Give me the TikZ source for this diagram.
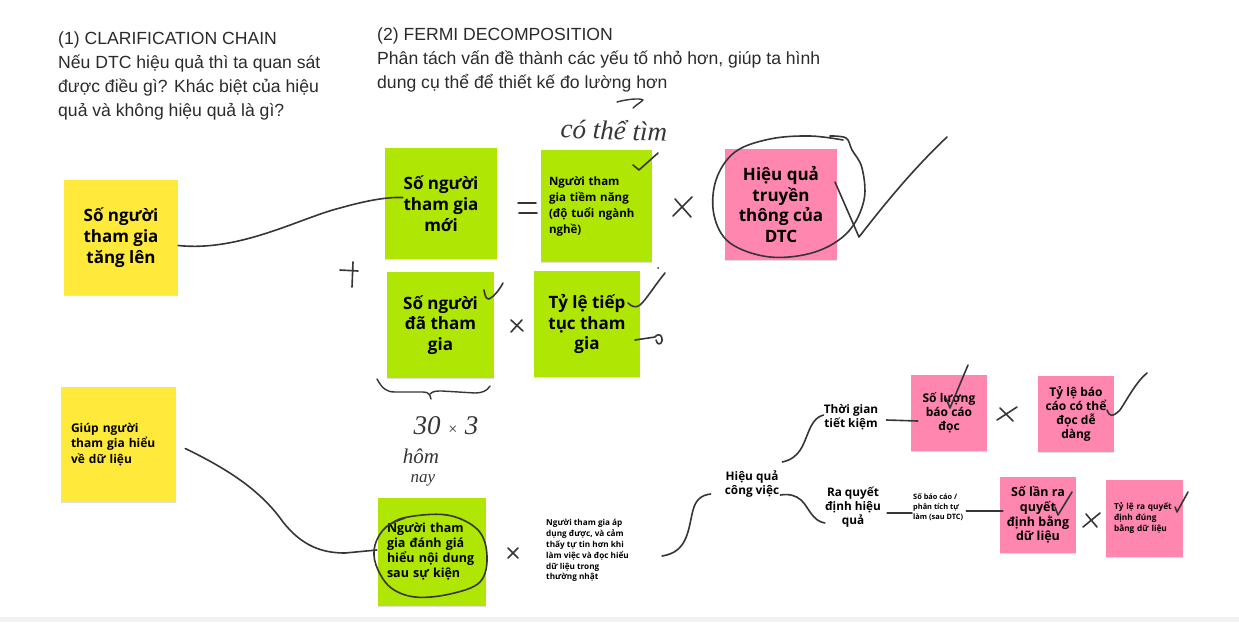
\documentclass[tikz,border=0pt]{standalone}
\usepackage{fontspec}
\setmainfont{Liberation Sans}
\newfontfamily\notefont{Open Sans}
\newfontfamily\handfont{Liberation Serif}
\usetikzlibrary{calc,shadows}
\definecolor{gyellow}{HTML}{FFEA3C}
\definecolor{glime}{HTML}{AFE603}
\definecolor{gpink}{HTML}{FF86AE}
\definecolor{ink}{HTML}{363636}
\definecolor{headc}{HTML}{2B2B2B}
\definecolor{barc}{HTML}{F1F2F4}
\begin{document}
\begin{tikzpicture}[x=1pt,y=-1pt,
  note/.style={inner sep=0pt, draw=none, text=black,
    drop shadow={shadow xshift=0pt,shadow yshift=-1.2pt,opacity=.12,fill=black}},
  bignote/.style={note, align=center, font=\notefont\bfseries\fontsize{17}{20.7}\selectfont},
  midnote/.style={note, align=center, font=\notefont\bfseries\fontsize{12}{14.2}\selectfont},
  smallnote/.style={note, align=left, font=\notefont\bfseries\fontsize{12}{15.5}\selectfont},
  head/.style={inner sep=0pt, anchor=north west, align=left, text=headc,
    font=\fontsize{17.6}{24}\selectfont},
  lbl/.style={inner sep=0pt, align=center, text=black,
    font=\notefont\bfseries\fontsize{11.8}{14}\selectfont},
  tiny/.style={inner sep=0pt, align=left, text=black,
    font=\notefont\bfseries\fontsize{8.2}{10.9}\selectfont},
  hand/.style={draw=ink, line width=1.6pt, line cap=round, line join=round},
  handtext/.style={inner sep=0pt, text=ink, font=\handfont\itshape}
]
\useasboundingbox (0,0) rectangle (1239,622);
\fill[white] (0,0) rectangle (1239,622);
\fill[barc] (0,617) rectangle (1239,622);

% headers
\node[head] (h1) at (58,32) {(1) CLARIFICATION CHAIN\\Nếu DTC hiệu quả thì ta quan sát\\được điều gì? Khác biệt của hiệu\\quả và không hiệu quả là gì?};
\node[head] (h2) at (377,28) {(2) FERMI DECOMPOSITION\\Phân tách vấn đề thành các yếu tố nhỏ hơn, giúp ta hình\\dung cụ thể để thiết kế đo lường hơn};

% sticky notes
\node[bignote, fill=gyellow, minimum width=114pt, minimum height=115pt] (y1) at (121,237.5) {Số người\\tham gia\\tăng lên};
\node[smallnote, fill=gyellow, minimum width=115pt, minimum height=115pt, text width=95pt] (y2) at (118.5,444.5) {Giúp người\\tham gia hiểu\\về dữ liệu};
\node[bignote, fill=glime, minimum width=112pt, minimum height=111pt] (gA) at (441,203.5) {Số người\\tham gia\\mới};
\node[note, align=left, font=\notefont\bfseries\fontsize{11.5}{16}\selectfont, fill=glime, minimum width=111pt, minimum height=112pt, text width=95pt] (gB) at (596.5,206) {Người tham\\gia tiềm năng\\(độ tuổi ngành\\nghề)};
\node[bignote, fill=gpink, minimum width=112pt, minimum height=111pt] (pk) at (781,204.5) {Hiệu quả\\truyền\\thông của\\DTC};
\node[bignote, fill=glime, minimum width=107pt, minimum height=106pt] (gC) at (440.5,325) {Số người\\đã tham\\gia};
\node[bignote, fill=glime, minimum width=106pt, minimum height=106pt] (gD) at (587,324) {Tỷ lệ tiếp\\tục tham\\gia};
\node[note, align=left, font=\notefont\bfseries\fontsize{12.5}{15}\selectfont, fill=glime, minimum width=108pt, minimum height=108pt, text width=90pt] (gE) at (432,552) {Người tham\\gia đánh giá\\hiểu nội dung\\sau sự kiện};
\node[midnote, fill=gpink, minimum width=76pt, minimum height=76pt] (p1) at (949,413) {Số lượng\\báo cáo\\đọc};
\node[midnote, fill=gpink, minimum width=76pt, minimum height=76pt] (p2) at (1076,414) {Tỷ lệ báo\\cáo có thể\\đọc dễ\\dàng};
\node[note, align=center, font=\notefont\bfseries\fontsize{12.5}{14.6}\selectfont, fill=gpink, minimum width=76pt, minimum height=76pt] (p3) at (1038,515) {Số lần ra\\quyết\\định bằng\\dữ liệu};
\node[note, align=left, font=\notefont\bfseries\fontsize{8.3}{11}\selectfont, fill=gpink, minimum width=77pt, minimum height=77pt, text width=61pt] (p4) at (1144.5,518.5) {Tỷ lệ ra quyết\\định đúng\\bằng dữ liệu};

% free labels
\node[tiny, anchor=north west] (t1) at (546,519) {Người tham gia áp\\dụng được, và cảm\\thấy tự tin hơn khi\\làm việc và đọc hiểu\\dữ liệu trong\\thường nhật};
\node[lbl] (hq) at (752,484) {Hiệu quả\\công việc};
\node[lbl] (tg) at (851,417) {Thời gian\\tiết kiệm};
\node[lbl] (rq) at (853,507) {Ra quyết\\định hiệu\\quả};
\node[inner sep=0pt, align=left, text=black, font=\notefont\bfseries\fontsize{7.4}{10}\selectfont, anchor=west] (sb) at (913,507) {Số báo cáo /\\phân tích tự\\làm (sau DTC)};

% handwritten texts
\node[handtext, font=\handfont\itshape\fontsize{27}{27}\selectfont, rotate=-2] (ht1) at (614,130) {có thể tìm};
\node[handtext, font=\handfont\itshape\fontsize{27}{27}\selectfont] (ht2) at (446,426) {30 {\fontsize{16}{16}\selectfont×} 3};
\node[handtext, font=\handfont\itshape\fontsize{21}{21}\selectfont] (ht3) at (421,456) {hôm};
\node[handtext, font=\handfont\itshape\fontsize{17}{17}\selectfont] (ht4) at (423,480) {nay};

% connectors
\draw[hand] ($(y1.east)+(0,8)$) .. controls (240,252) and (300,218) .. (340,208) .. controls (372,199) and (390,197) .. ($(gA.west)+(18,-6)$);
\draw[hand] ($(y2.east)+(9,4)$) .. controls (230,470) and (262,492) .. (283,522) .. controls (302,546) and (322,553) .. (345,553) -- ($(gE.west)+(-1,-2)$);
\coordinate (c3s) at (662,556);
\draw[hand] (c3s) .. controls (688,552) and (688,530) .. (693,510) .. controls (696,499) and (702,495) .. ($(hq.west)+(-14,10)$);
\draw[hand] ($(hq.east)+(3,-22)$) .. controls (800,458) and (803,445) .. (808,433) .. controls (812,423) and (816,417) .. ($(tg.west)+(0,-2)$);
\draw[hand] ($(hq.east)+(1,11)$) .. controls (800,492) and (805,505) .. (810,512) .. controls (815,519) and (819,522) .. ($(rq.west)+(0,16)$);
\draw[hand] ($(tg.east)+(8,3)$) -- ($(p1.west)+(7,8)$);
\draw[hand] ($(rq.east)+(6,6)$) -- ($(sb.west)+(-1,6)$);
\draw[hand] ($(sb.east)+(3,4)$) -- ($(p3.west)+(3,-4)$);

% operators
\draw[hand] (518,203) -- (536,203) (519,213) -- (537,213);
\draw[hand] (673,216) -- (692,197) (675,199) -- (691,217);
\draw[hand] (340,270) -- (358,271) (353,262) -- (352,287);
\draw[hand] (511,320) -- (523,331) (522,320) -- (511,332);
\draw[hand] (508,548) -- (518,558) (518,548) -- (508,558);
\draw[hand] (997,420) -- (1017,407) (1000,408) -- (1013,421);
\draw[hand] (1083,527) -- (1100,513) (1086,514) -- (1097,527);

% brace
\draw[hand, line width=1.4pt] (377,379) .. controls (382,388) and (386,392) .. (395,392) -- (423,392) .. controls (428,392) and (430,394) .. (431,399);
\draw[hand, line width=1.4pt] (430,394) .. controls (433,391) and (436,391) .. (442,391) -- (475,393) .. controls (482,393) and (487,391) .. (490,386);

% question hook above
\draw[hand, line width=1.4pt] (617,102) .. controls (628,99) and (640,98) .. (643,100) .. controls (640,103) and (636,105) .. (633,108);

% ticks and circles
\draw[hand] (633,165) -- (639,170) -- (658,153);
\draw[hand] plot[smooth, tension=0.6] coordinates {(843,140) (810,136) (770,139) (735,152) (716,180) (714,215) (730,243) (770,257) (815,252) (848,232) (864,200) (862,168) (852,150) (846,138) (830,136)};
\draw[hand] (835,182) -- (859,237) .. controls (880,210) and (910,172) .. (947,137);
\draw[hand] (484,290) .. controls (485,296) and (486,299) .. (489,299) .. controls (495,296) and (499,290) .. (503,283);
\draw[hand] (628,303) .. controls (632,307) and (636,308) .. (640,305) .. controls (646,300) and (655,285) .. (665,273);
\fill[ink] (658,268) circle (1pt);
\draw[hand] (635,340) -- (655,337) .. controls (659,332) and (663,336) .. (662,341) .. controls (661,345) and (657,345) .. (656,340);
\draw[hand] plot[smooth, tension=0.6] coordinates {(383,530) (403,518) (447,515) (478,530) (487,556) (480,582) (450,594) (415,597) (390,587) (376,565) (375,545) (386,527) (405,518)};
\draw[hand] (946,398) -- (950,408) -- (968,365);
\draw[hand] (1107,410) .. controls (1109,416) and (1112,418) .. (1120,410) .. controls (1128,398) and (1136,382) .. (1147,373);
\draw[hand] (1055,507) -- (1058,515) -- (1072,492);
\draw[hand] (1175,507) -- (1177,512) -- (1188,492);

\end{tikzpicture}
\end{document}
